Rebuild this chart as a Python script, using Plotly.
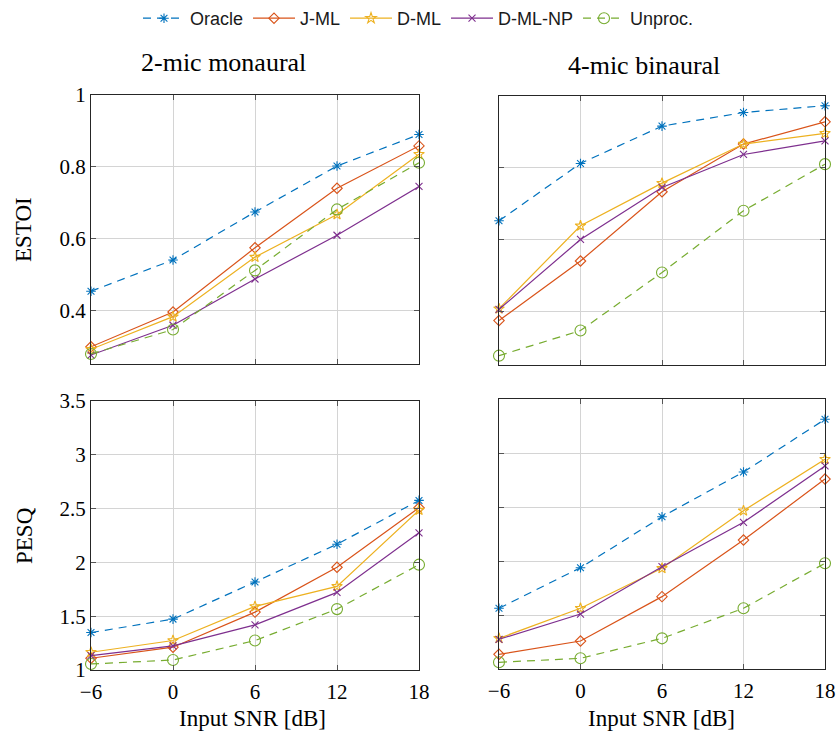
import plotly.graph_objects as go

snr = [-6, 0, 6, 12, 18]
snr_text = ["\u22126", "0", "6", "12", "18"]

series_names = ["Oracle", "J-ML", "D-ML", "D-ML-NP", "Unproc."]

estoi_mono = {
    "Oracle":  [0.453, 0.540, 0.674, 0.802, 0.890],
    "J-ML":    [0.298, 0.395, 0.574, 0.740, 0.858],
    "D-ML":    [0.291, 0.382, 0.548, 0.667, 0.835],
    "D-ML-NP": [0.275, 0.358, 0.487, 0.609, 0.745],
    "Unproc.": [0.278, 0.346, 0.511, 0.681, 0.811],
}
estoi_bin = {
    "Oracle":  [0.652, 0.812, 0.916, 0.954, 0.973],
    "J-ML":    [0.374, 0.540, 0.733, 0.866, 0.928],
    "D-ML":    [0.407, 0.638, 0.757, 0.866, 0.896],
    "D-ML-NP": [0.405, 0.600, 0.745, 0.837, 0.875],
    "Unproc.": [0.276, 0.346, 0.508, 0.680, 0.810],
}
pesq_mono = {
    "Oracle":  [1.348, 1.473, 1.818, 2.169, 2.576],
    "J-ML":    [1.109, 1.212, 1.538, 1.955, 2.508],
    "D-ML":    [1.165, 1.274, 1.591, 1.777, 2.486],
    "D-ML-NP": [1.134, 1.224, 1.420, 1.721, 2.275],
    "Unproc.": [1.056, 1.093, 1.274, 1.566, 1.979],
}
pesq_bin = {
    "Oracle":  [1.562, 1.938, 2.410, 2.824, 3.312],
    "J-ML":    [1.136, 1.259, 1.670, 2.194, 2.759],
    "D-ML":    [1.284, 1.562, 1.932, 2.466, 2.942],
    "D-ML-NP": [1.275, 1.509, 1.947, 2.358, 2.880],
    "Unproc.": [1.062, 1.099, 1.284, 1.562, 1.979],
}

estoi_ticks = [0.4, 0.6, 0.8, 1.0]
estoi_ticktext = ["0.4", "0.6", "0.8", "1"]
pesq_ticks = [1, 1.5, 2, 2.5, 3, 3.5]
pesq_ticktext = ["1", "1.5", "2", "2.5", "3", "3.5"]

colors = {"Oracle": "#0072BD", "J-ML": "#D95319", "D-ML": "#EDB120",
          "D-ML-NP": "#7E2F8E", "Unproc.": "#77AC30"}
symbols = {"Oracle": "asterisk-open", "J-ML": "diamond-open", "D-ML": "star-open",
           "D-ML-NP": "x-thin-open", "Unproc.": "circle-open"}
msize = {"Oracle": 8, "J-ML": 8, "D-ML": 8, "D-ML-NP": 7, "Unproc.": 11}
dashes = {"Oracle": "8px,6px", "J-ML": "solid", "D-ML": "solid",
          "D-ML-NP": "solid", "Unproc.": "8px,6px"}

W, H = 837, 740
def px_x(a, b):
    return [a / W, b / W]
def px_y(top, bottom):
    return [1 - bottom / H, 1 - top / H]

panels = [
    (estoi_mono, "x", "y", px_x(91, 419), px_y(95, 364)),
    (estoi_bin, "x2", "y2", px_x(499, 825), px_y(96, 365)),
    (pesq_mono, "x3", "y3", px_x(91, 419), px_y(401, 670)),
    (pesq_bin, "x4", "y4", px_x(499, 825), px_y(399, 669)),
]

fig = go.Figure()
for pi, (data, xa, ya, dx, dy) in enumerate(panels):
    for name in series_names:
        fig.add_trace(go.Scatter(
            x=snr, y=data[name], xaxis=xa, yaxis=ya, name=name,
            mode="lines+markers", showlegend=(pi == 0), cliponaxis=False,
            line=dict(color=colors[name], width=1.2, dash=dashes[name]),
            marker=dict(symbol=symbols[name], size=msize[name],
                        line=dict(color=colors[name], width=1.1), color=colors[name]),
        ))

serif = "Liberation Serif"
tickfont = dict(family=serif, size=21, color="black")
common_axis = dict(showline=True, linecolor="#262626", linewidth=1.2, mirror="ticks",
                   ticks="inside", ticklen=5, tickcolor="#555555", tickwidth=1,
                   showgrid=True, gridcolor="#d4d4d4", gridwidth=1, zeroline=False,
                   tickfont=tickfont, automargin=False)

layout = dict(
    width=W, height=H, margin=dict(l=0, r=0, t=0, b=0, autoexpand=False),
    paper_bgcolor="white", plot_bgcolor="white",
    legend=dict(orientation="h", x=0.5, xanchor="center", y=1.0, yanchor="top",
                font=dict(family="Liberation Sans", size=18, color="#1a1a1a"),
                itemwidth=42, tracegroupgap=0, bgcolor="rgba(0,0,0,0)"),
)
for i, (data, xa, ya, dx, dy) in enumerate(panels):
    xk = "xaxis" if xa == "x" else "xaxis" + xa[1:]
    yk = "yaxis" if ya == "y" else "yaxis" + ya[1:]
    show_x = i >= 2
    show_y = i in (0, 2)
    if i < 2:
        yt, ytt, yr = estoi_ticks, estoi_ticktext, [0.25, 1.0]
    else:
        yt, ytt, yr = pesq_ticks, pesq_ticktext, [1.0, 3.5]
    layout[xk] = dict(common_axis, domain=dx, anchor=ya, range=[-6, 18],
                      tickvals=snr, ticktext=snr_text, showticklabels=show_x,
                      ticklabelstandoff=3)
    layout[yk] = dict(common_axis, domain=dy, anchor=xa, range=yr,
                      tickvals=yt, ticktext=ytt, showticklabels=show_y)

fig.update_layout(**layout)

ann_font = dict(family=serif, size=26, color="black")
lab_font = dict(family=serif, size=23, color="black")
annots = [
    dict(text="2-mic monaural", x=223 / W, y=1 - 62 / H, font=ann_font),
    dict(text="4-mic binaural", x=644 / W, y=1 - 66 / H, font=ann_font),
    dict(text="ESTOI", x=24 / W, y=1 - 230 / H, font=lab_font, textangle=-90),
    dict(text="PESQ", x=24 / W, y=1 - 536 / H, font=lab_font, textangle=-90),
    dict(text="Input SNR [dB]", x=252 / W, y=1 - 718 / H, font=lab_font),
    dict(text="Input SNR [dB]", x=661 / W, y=1 - 718 / H, font=lab_font),
]
for a in annots:
    fig.add_annotation(xref="paper", yref="paper", showarrow=False,
                       xanchor="center", yanchor="middle", **a)

fig.write_html("out.html")
